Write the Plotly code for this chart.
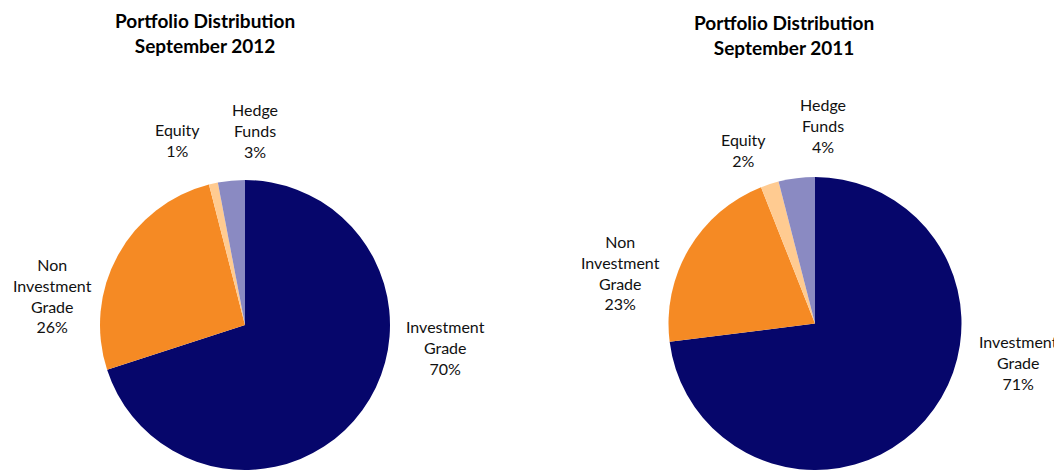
import plotly.graph_objects as go

# the page body adds an 8px offset; the figure fills the rest of the window
OFF = 8
W, H = 1062 - OFF, 470 - OFF

categories = ["Investment Grade", "Non Investment Grade", "Equity", "Hedge Funds"]
label_lines = ["Investment<br>Grade", "Non<br>Investment<br>Grade", "Equity", "Hedge<br>Funds"]
colors = ["#06066B", "#F58A24", "#FFCB91", "#8A8AC2"]

# slice shares as drawn
values_2012 = [70, 26, 1, 3]
values_2011 = [73, 21, 2, 4]
# percentages printed on the labels
pct_2012 = [70, 26, 1, 3]
pct_2011 = [71, 23, 2, 4]

titles = ["Portfolio Distribution<br>September 2012", "Portfolio Distribution<br>September 2011"]


def px_x(x):
    return (x - OFF) / W


def px_y(y):
    return 1 - (y - OFF) / H


fig = go.Figure()

fig.add_trace(go.Pie(
    labels=categories, values=values_2012, sort=False, direction="clockwise",
    rotation=0, textinfo="none", hoverinfo="label+percent",
    marker=dict(colors=colors, line=dict(width=0)),
    domain=dict(x=[px_x(100), px_x(390)], y=[0, px_y(180)]),
    showlegend=False,
))
fig.add_trace(go.Pie(
    labels=categories, values=values_2011, sort=False, direction="clockwise",
    rotation=0, textinfo="none", hoverinfo="label+percent",
    marker=dict(colors=colors, line=dict(width=0)),
    domain=dict(x=[px_x(666), px_x(964)], y=[0, px_y(177)]),
    showlegend=False,
))

label_font = dict(family="Lato, 'Noto Sans', sans-serif", size=16, color="#111111")
title_font = dict(family="Lato, 'Noto Sans', sans-serif", size=19, color="#000000")

# label anchor positions (pixel centres in the window)
pos_2012 = [(445, 347), (52, 295), (177, 140), (255, 130)]
pos_2011 = [(1018, 362), (620, 272), (743, 150), (823, 125)]

annotations = []
for pcts, poss in ((pct_2012, pos_2012), (pct_2011, pos_2011)):
    for name, p, (x, y) in zip(label_lines, pcts, poss):
        annotations.append(dict(
            text=f"{name}<br>{p}%", x=px_x(x), y=px_y(y), xref="paper", yref="paper",
            xanchor="center", yanchor="middle", showarrow=False, align="center",
            font=label_font,
        ))

for t, (x, y) in zip(titles, [(205, 33), (784, 35)]):
    annotations.append(dict(
        text=f"<b>{t}</b>", x=px_x(x), y=px_y(y), xref="paper", yref="paper",
        xanchor="center", yanchor="middle", showarrow=False, align="center",
        font=title_font,
    ))

fig.update_layout(
    width=W, height=H,
    margin=dict(l=0, r=0, t=0, b=0),
    paper_bgcolor="white", plot_bgcolor="white",
    annotations=annotations,
)

fig.write_html("out.html")
